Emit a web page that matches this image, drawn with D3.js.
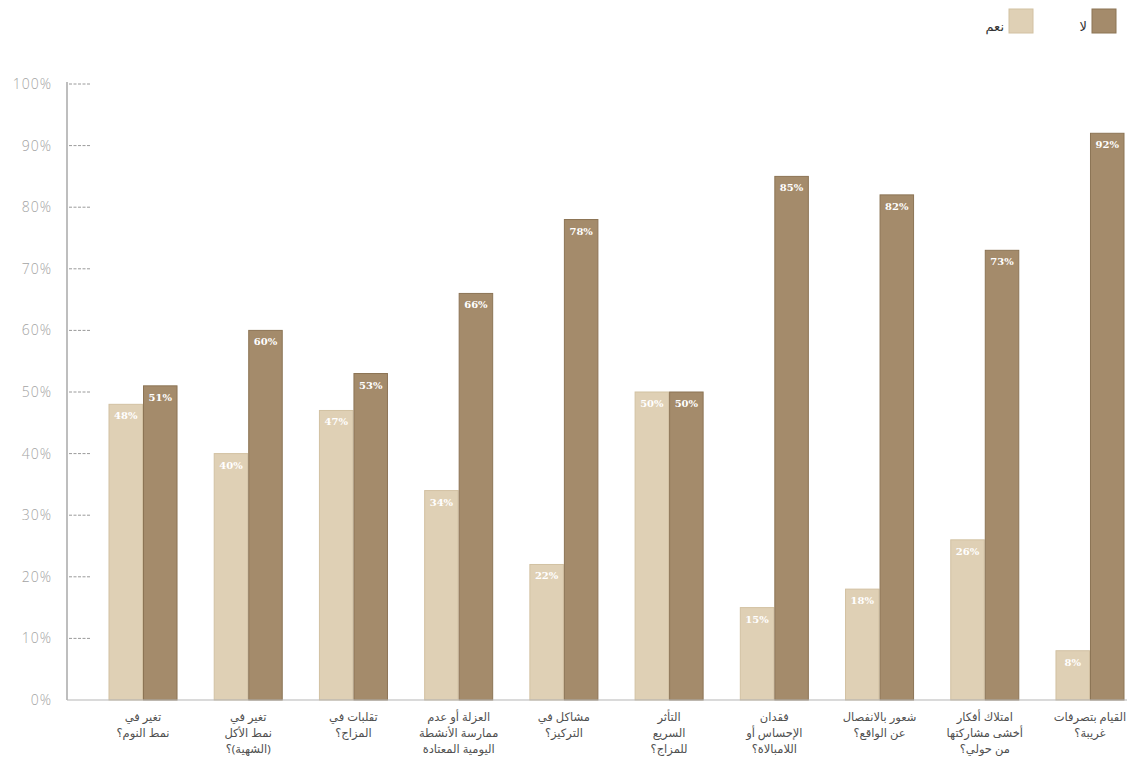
<!DOCTYPE html>
<html lang="ar">
<head>
<meta charset="utf-8">
<script src="https://cdn.jsdelivr.net/npm/d3@7"></script>
<style>
  html, body { margin: 0; padding: 0; background: #ffffff; }
  svg { display: block; }
</style>
</head>
<body>
<svg id="chart" width="1130" height="761"></svg>
<script>
// Survey questions (each entry split into the lines drawn under the group)
const categories = [
  ["تغير في", "نمط النوم؟"],
  ["تغير في", "نمط الأكل", "(الشهية)؟"],
  ["تقلبات في", "المزاج؟"],
  ["العزلة أو عدم", "ممارسة الأنشطة", "اليومية المعتادة"],
  ["مشاكل في", "التركيز؟"],
  ["التأثر", "السريع", "للمزاج؟"],
  ["فقدان", "الإحساس أو", "اللامبالاة؟"],
  ["شعور بالانفصال", "عن الواقع؟"],
  ["امتلاك أفكار", "أخشى مشاركتها", "من حولي؟"],
  ["القيام بتصرفات", "غريبة؟"]
];

// Share of answers, in percent
const yesValues = [48, 40, 47, 34, 22, 50, 15, 18, 26, 8];
const noValues  = [51, 60, 53, 66, 78, 50, 85, 82, 73, 92];

const seriesNames = ["نعم", "لا"];
const yTicks = [0, 10, 20, 30, 40, 50, 60, 70, 80, 90, 100];

const colors = { yes: "#dfd0b5", no: "#a48b6b" };
const edges  = { yes: "#d2c1a2", no: "#8c7455" };

const svg = d3.select("#chart");

const x0 = 67, yBottom = 700, yTop = 84;

const y = d3.scaleLinear().domain([0, 100]).range([yBottom, yTop]);

const groupIdx = categories.map((_, i) => i);
const x = d3.scaleBand()
  .domain(groupIdx)
  .range([90.4, 1142.6])
  .paddingInner(0.344)
  .paddingOuter(0.172);

const xs = d3.scaleBand().domain(["yes", "no"]).range([0, x.bandwidth()]);

// Y axis: tick labels and dashed tick marks
const yAxis = d3.axisLeft(y)
  .tickValues(yTicks)
  .tickFormat(d => d + "%")
  .tickSize(0)
  .tickPadding(15);

const gy = svg.append("g").attr("transform", `translate(${x0},0)`).call(yAxis);
gy.select(".domain").remove();
gy.selectAll("text")
  .attr("fill", "#a3a3a3")
  .attr("font-family", "'Open Sans', 'DejaVu Sans', sans-serif")
  .attr("font-size", 14)
  .attr("font-weight", 300)
  .attr("letter-spacing", 1);

svg.append("g").selectAll("line")
  .data(yTicks.filter(d => d > 0))
  .join("line")
  .attr("x1", x0 + 2).attr("x2", x0 + 23)
  .attr("y1", d => y(d)).attr("y2", d => y(d))
  .attr("stroke", "#9a9a9a")
  .attr("stroke-width", 1)
  .attr("stroke-dasharray", "3,1.5");

// Bars
const rows = categories.map((c, i) => ({ i, yes: yesValues[i], no: noValues[i] }));

const groups = svg.append("g").selectAll("g")
  .data(rows)
  .join("g")
  .attr("transform", d => `translate(${x(d.i)},0)`);

groups.selectAll("rect")
  .data(d => ["yes", "no"].map(k => ({ key: k, value: d[k] })))
  .join("rect")
  .attr("x", d => xs(d.key) + 0.5)
  .attr("width", xs.bandwidth() - 1)
  .attr("y", d => y(d.value))
  .attr("height", d => yBottom - y(d.value))
  .attr("fill", d => colors[d.key])
  .attr("stroke", d => edges[d.key])
  .attr("stroke-width", 1);

groups.selectAll("text.val")
  .data(d => ["yes", "no"].map(k => ({ key: k, value: d[k] })))
  .join("text")
  .attr("class", "val")
  .attr("x", d => xs(d.key) + xs.bandwidth() / 2)
  .attr("y", d => y(d.value) + 15)
  .attr("text-anchor", "middle")
  .attr("fill", "#ffffff")
  .attr("font-family", "'DejaVu Serif', serif")
  .attr("font-weight", "bold")
  .attr("font-size", 10)
  .text(d => d.value + "%");

// Axis lines
svg.append("line")
  .attr("x1", x0).attr("x2", x0)
  .attr("y1", yTop - 2).attr("y2", yBottom)
  .attr("stroke", "#a8a8a8").attr("stroke-width", 1.5);
svg.append("line")
  .attr("x1", x0).attr("x2", 1127)
  .attr("y1", yBottom).attr("y2", yBottom)
  .attr("stroke", "#b5b5b5").attr("stroke-width", 1.2);

// Category labels
const labels = svg.append("g").selectAll("text")
  .data(rows)
  .join("text")
  .attr("x", d => x(d.i) + x.bandwidth() / 2)
  .attr("y", 721)
  .attr("text-anchor", "middle")
  .attr("fill", "#505050")
  .attr("font-family", "'Noto Sans', 'DejaVu Sans', sans-serif")
  .attr("font-size", 11.5)
  .attr("direction", "rtl");

labels.selectAll("tspan")
  .data(d => categories[d.i].map((t, k) => ({ t, k, cx: x(d.i) + x.bandwidth() / 2 })))
  .join("tspan")
  .attr("x", d => d.cx)
  .attr("dy", d => d.k === 0 ? 0 : 16)
  .text(d => d.t);

// Legend
const legend = svg.append("g");
const legendItems = [
  { name: seriesNames[1], key: "no", sx: 1092, tx: 1087 },
  { name: seriesNames[0], key: "yes", sx: 1009, tx: 1004 }
];
legend.selectAll("rect")
  .data(legendItems)
  .join("rect")
  .attr("x", d => d.sx).attr("y", 9)
  .attr("width", 24).attr("height", 24)
  .attr("fill", d => colors[d.key])
  .attr("stroke", d => edges[d.key]);
legend.selectAll("text")
  .data(legendItems)
  .join("text")
  .attr("x", d => d.tx).attr("y", 31)
  .attr("text-anchor", "end")
  .attr("fill", "#333")
  .attr("font-family", "'Noto Sans', 'DejaVu Sans', sans-serif")
  .attr("font-size", 13)
  .text(d => d.name);
</script>
</body>
</html>
